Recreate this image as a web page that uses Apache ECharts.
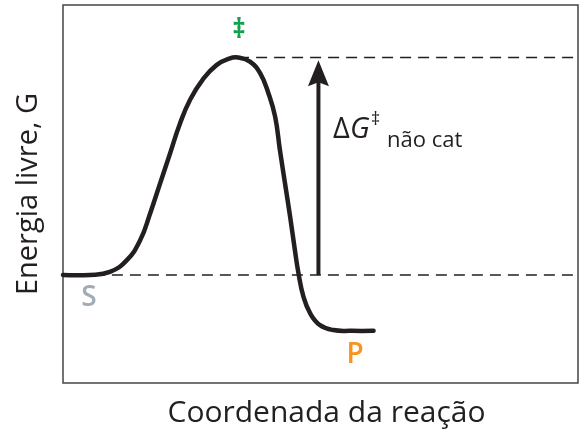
<!DOCTYPE html>
<html>
<head>
<meta charset="utf-8">
<script src="https://cdn.jsdelivr.net/npm/echarts@6/dist/echarts.min.js"></script>
<style>
  html, body { margin: 0; padding: 0; background: #fff; }
  #chart { width: 584px; height: 436px; }
</style>
</head>
<body>
<div id="chart"></div>
<script>
// coordenada da reação (0-100) e energia livre (0-100)
var reactionCoord = [0, 5.2, 9.1, 12.4, 15.0, 16.9, 18.8, 20.8, 22.7, 24.7, 27.2, 29.8, 32.4, 34.0, 36.3, 38.3, 39.9, 41.2, 42.1, 43.1, 44.1, 45.0, 45.7, 46.7, 48.0, 49.9, 52.5, 56.0, 60.3];
var freeEnergy    = [28.6, 28.6, 29.4, 32.5, 37.8, 44.8, 52.6, 60.8, 68.6, 75.0, 80.4, 84.1, 85.9, 86.1, 85.0, 81.9, 76.6, 70.4, 61.8, 52.9, 44.0, 35.4, 29.2, 22.8, 18.4, 15.3, 14.0, 13.8, 13.8];

var substrateLevel = 28.6;   // S
var transitionLevel = 86.1;  // ‡
var transitionX = 34.0;
var arrowX = 49.6;
var arrowTip = 85.4;

var curve = reactionCoord.map(function (x, i) { return [x, freeEnergy[i]]; });

var ink = "#231f20";
var font = "'Open Sans', 'Noto Sans', sans-serif";

var myChart = echarts.init(document.getElementById("chart"));

var option = {
    animation: false,
    grid: {
        left: 63,
        top: 5,
        right: 6,
        bottom: 53,
        show: true,
        borderColor: "#444",
        borderWidth: 1.5
    },
    xAxis: {
        type: "value",
        min: 0,
        max: 100,
        name: "Coordenada da reação",
        nameLocation: "middle",
        nameGap: 15,
        nameTextStyle: { fontSize: 30, fontFamily: font, color: ink, padding: [0, 0, 0, 12] },
        axisLine: { show: false },
        axisTick: { show: false },
        axisLabel: { show: false },
        splitLine: { show: false }
    },
    yAxis: {
        type: "value",
        min: 0,
        max: 100,
        name: "Energia livre, G",
        nameLocation: "middle",
        nameGap: 20,
        nameTextStyle: { fontSize: 29, fontFamily: font, color: ink },
        axisLine: { show: false },
        axisTick: { show: false },
        axisLabel: { show: false },
        splitLine: { show: false }
    },
    series: [
        {
            // nível de S (tracejado)
            type: "line",
            data: [[6, substrateLevel], [100, substrateLevel]],
            symbol: "none",
            z: 1,
            lineStyle: { color: ink, width: 1.5, type: [11, 7] }
        },
        {
            // nível do estado de transição (tracejado)
            type: "line",
            data: [[transitionX, transitionLevel], [100, transitionLevel]],
            symbol: "none",
            z: 1,
            lineStyle: { color: ink, width: 1.5, type: [11, 7] }
        },
        {
            // seta ΔG‡
            type: "line",
            data: [[arrowX, substrateLevel], [arrowX, arrowTip - 5]],
            symbol: "none",
            z: 2,
            lineStyle: { color: ink, width: 4 }
        },
        {
            type: "scatter",
            data: [[arrowX, arrowTip]],
            symbol: "path://M11,0 L22,26 L11,22 L0,26 Z",
            symbolSize: [21, 26],
            symbolOffset: [0, "50%"],
            z: 3,
            itemStyle: { color: ink, opacity: 1 }
        },
        {
            // perfil de energia (spline sem restrição, para não achatar o pico)
            type: "custom",
            data: [[0, 0]],
            z: 4,
            renderItem: function (params, api) {
                var pts = curve.map(function (p) { return api.coord(p); });
                return {
                    type: "polyline",
                    shape: { points: pts, smooth: 0.45 },
                    style: { stroke: ink, lineWidth: 4.5, fill: "none", lineCap: "round", lineJoin: "round" }
                };
            }
        }
    ],
    graphic: [
        {
            type: "text", x: 239, y: 31,
            style: { text: "‡", font: "bold 26px " + font, fill: "#12a150", textAlign: "center", textVerticalAlign: "middle" }
        },
        {
            type: "text", x: 89, y: 298,
            style: { text: "S", font: "600 28px " + font, fill: "#a3abb5", textAlign: "center", textVerticalAlign: "middle" }
        },
        {
            type: "text", x: 355, y: 355,
            style: { text: "P", font: "600 28px " + font, fill: "#f7941d", textAlign: "center", textVerticalAlign: "middle" }
        },
        {
            type: "text", x: 333, y: 130,
            style: { text: "Δ", font: "29px " + font, fill: ink, textAlign: "left", textVerticalAlign: "middle" }
        },
        {
            type: "text", x: 350, y: 130,
            style: { text: "G", font: "italic 29px " + font, fill: ink, textAlign: "left", textVerticalAlign: "middle" }
        },
        {
            type: "text", x: 371, y: 120,
            style: { text: "‡", font: "18px " + font, fill: ink, textAlign: "left", textVerticalAlign: "middle" }
        },
        {
            type: "text", x: 387, y: 141,
            style: { text: "não cat", font: "22px " + font, fill: ink, textAlign: "left", textVerticalAlign: "middle" }
        }
    ]
};

myChart.setOption(option);
</script>
</body>
</html>
